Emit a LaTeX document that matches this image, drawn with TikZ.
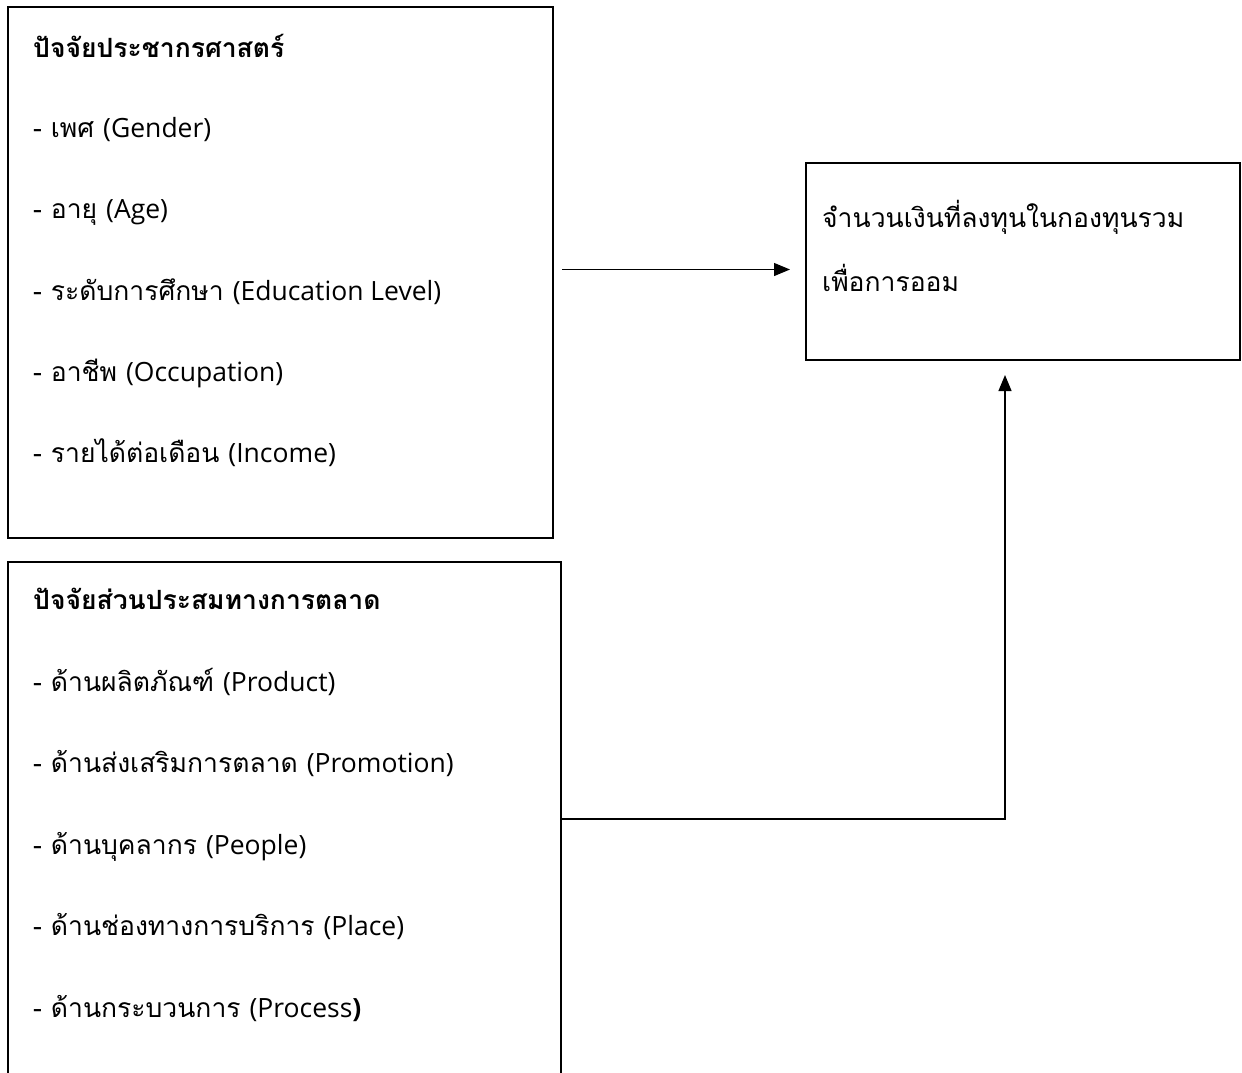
\documentclass[tikz,border=0pt]{standalone}
\usepackage{fontspec}
\setmainfont[Script=Thai]{Loma}
\newfontfamily\latinfont{Open Sans}
\newcommand{\lt}[1]{{\latinfont #1}}
\usetikzlibrary{arrows.meta}
\begin{document}
\begin{tikzpicture}[x=1pt,y=-1pt,
  box/.style={draw, line width=2.4pt, inner sep=0pt, outer sep=0pt, anchor=north west},
  lbl/.style={anchor=mid west, inner sep=0pt, yshift=-7pt, font=\fontsize{26.5}{32}\selectfont},
  hd/.style={anchor=mid west, inner sep=0pt, yshift=-7pt, font=\fontsize{26.5}{32}\selectfont\bfseries},
  conn/.style={line width=1.2pt, -{Triangle[length=16pt,width=13pt]}}]
\useasboundingbox (0,0) rectangle (1242,1073);
% boxes
\node[box, minimum width=545pt, minimum height=531pt] (demo) at (8,7) {};
\node[box, minimum width=553pt, minimum height=540pt] (mkt) at (8,562) {};
\node[box, minimum width=434pt, minimum height=197pt] (outc) at (806,163) {};
% box 1 text
\node[hd]  (d0) at (33,48)  {ปัจจัยประชากรศาสตร์};
\node[lbl] (d1) at (33,128) {- เพศ \lt{(Gender)}};
\node[lbl] (d2) at (33,209) {- อายุ \lt{(Age)}};
\node[lbl] (d3) at (33,291) {- ระดับการศึกษา \lt{(Education Level)}};
\node[lbl] (d4) at (33,372) {- อาชีพ \lt{(Occupation)}};
\node[lbl] (d5) at (33,453) {- รายได้ต่อเดือน \lt{(Income)}};
% box 2 text
\node[hd]  (m0) at (33,600)  {ปัจจัยส่วนประสมทางการตลาด};
\node[lbl] (m1) at (33,682)  {- ด้านผลิตภัณฑ์ \lt{(Product)}};
\node[lbl] (m2) at (33,763)  {- ด้านส่งเสริมการตลาด \lt{(Promotion)}};
\node[lbl] (m3) at (33,845)  {- ด้านบุคลากร \lt{(People)}};
\node[lbl] (m4) at (33,926)  {- ด้านช่องทางการบริการ \lt{(Place)}};
\node[lbl] (m5) at (33,1008) {- ด้านกระบวนการ \lt{(Process}{\latinfont\bfseries )}};
% box 3 text
\node[lbl] (o1) at (822,218) {จำนวนเงินที่ลงทุนในกองทุนรวม};
\node[lbl] (o2) at (822,282) {เพื่อการออม};
% connectors
\coordinate (s1) at ([shift={(9,-3)}]demo.east);
\coordinate (bend) at (1005,819);
\coordinate (tip2) at ([yshift=-15pt]outc.south);
\draw[conn] (s1) -- ([xshift=-16pt]outc.west |- s1);
\draw[conn] (mkt.east |- bend) -- (bend) -- (bend |- tip2);
\end{tikzpicture}
\end{document}
